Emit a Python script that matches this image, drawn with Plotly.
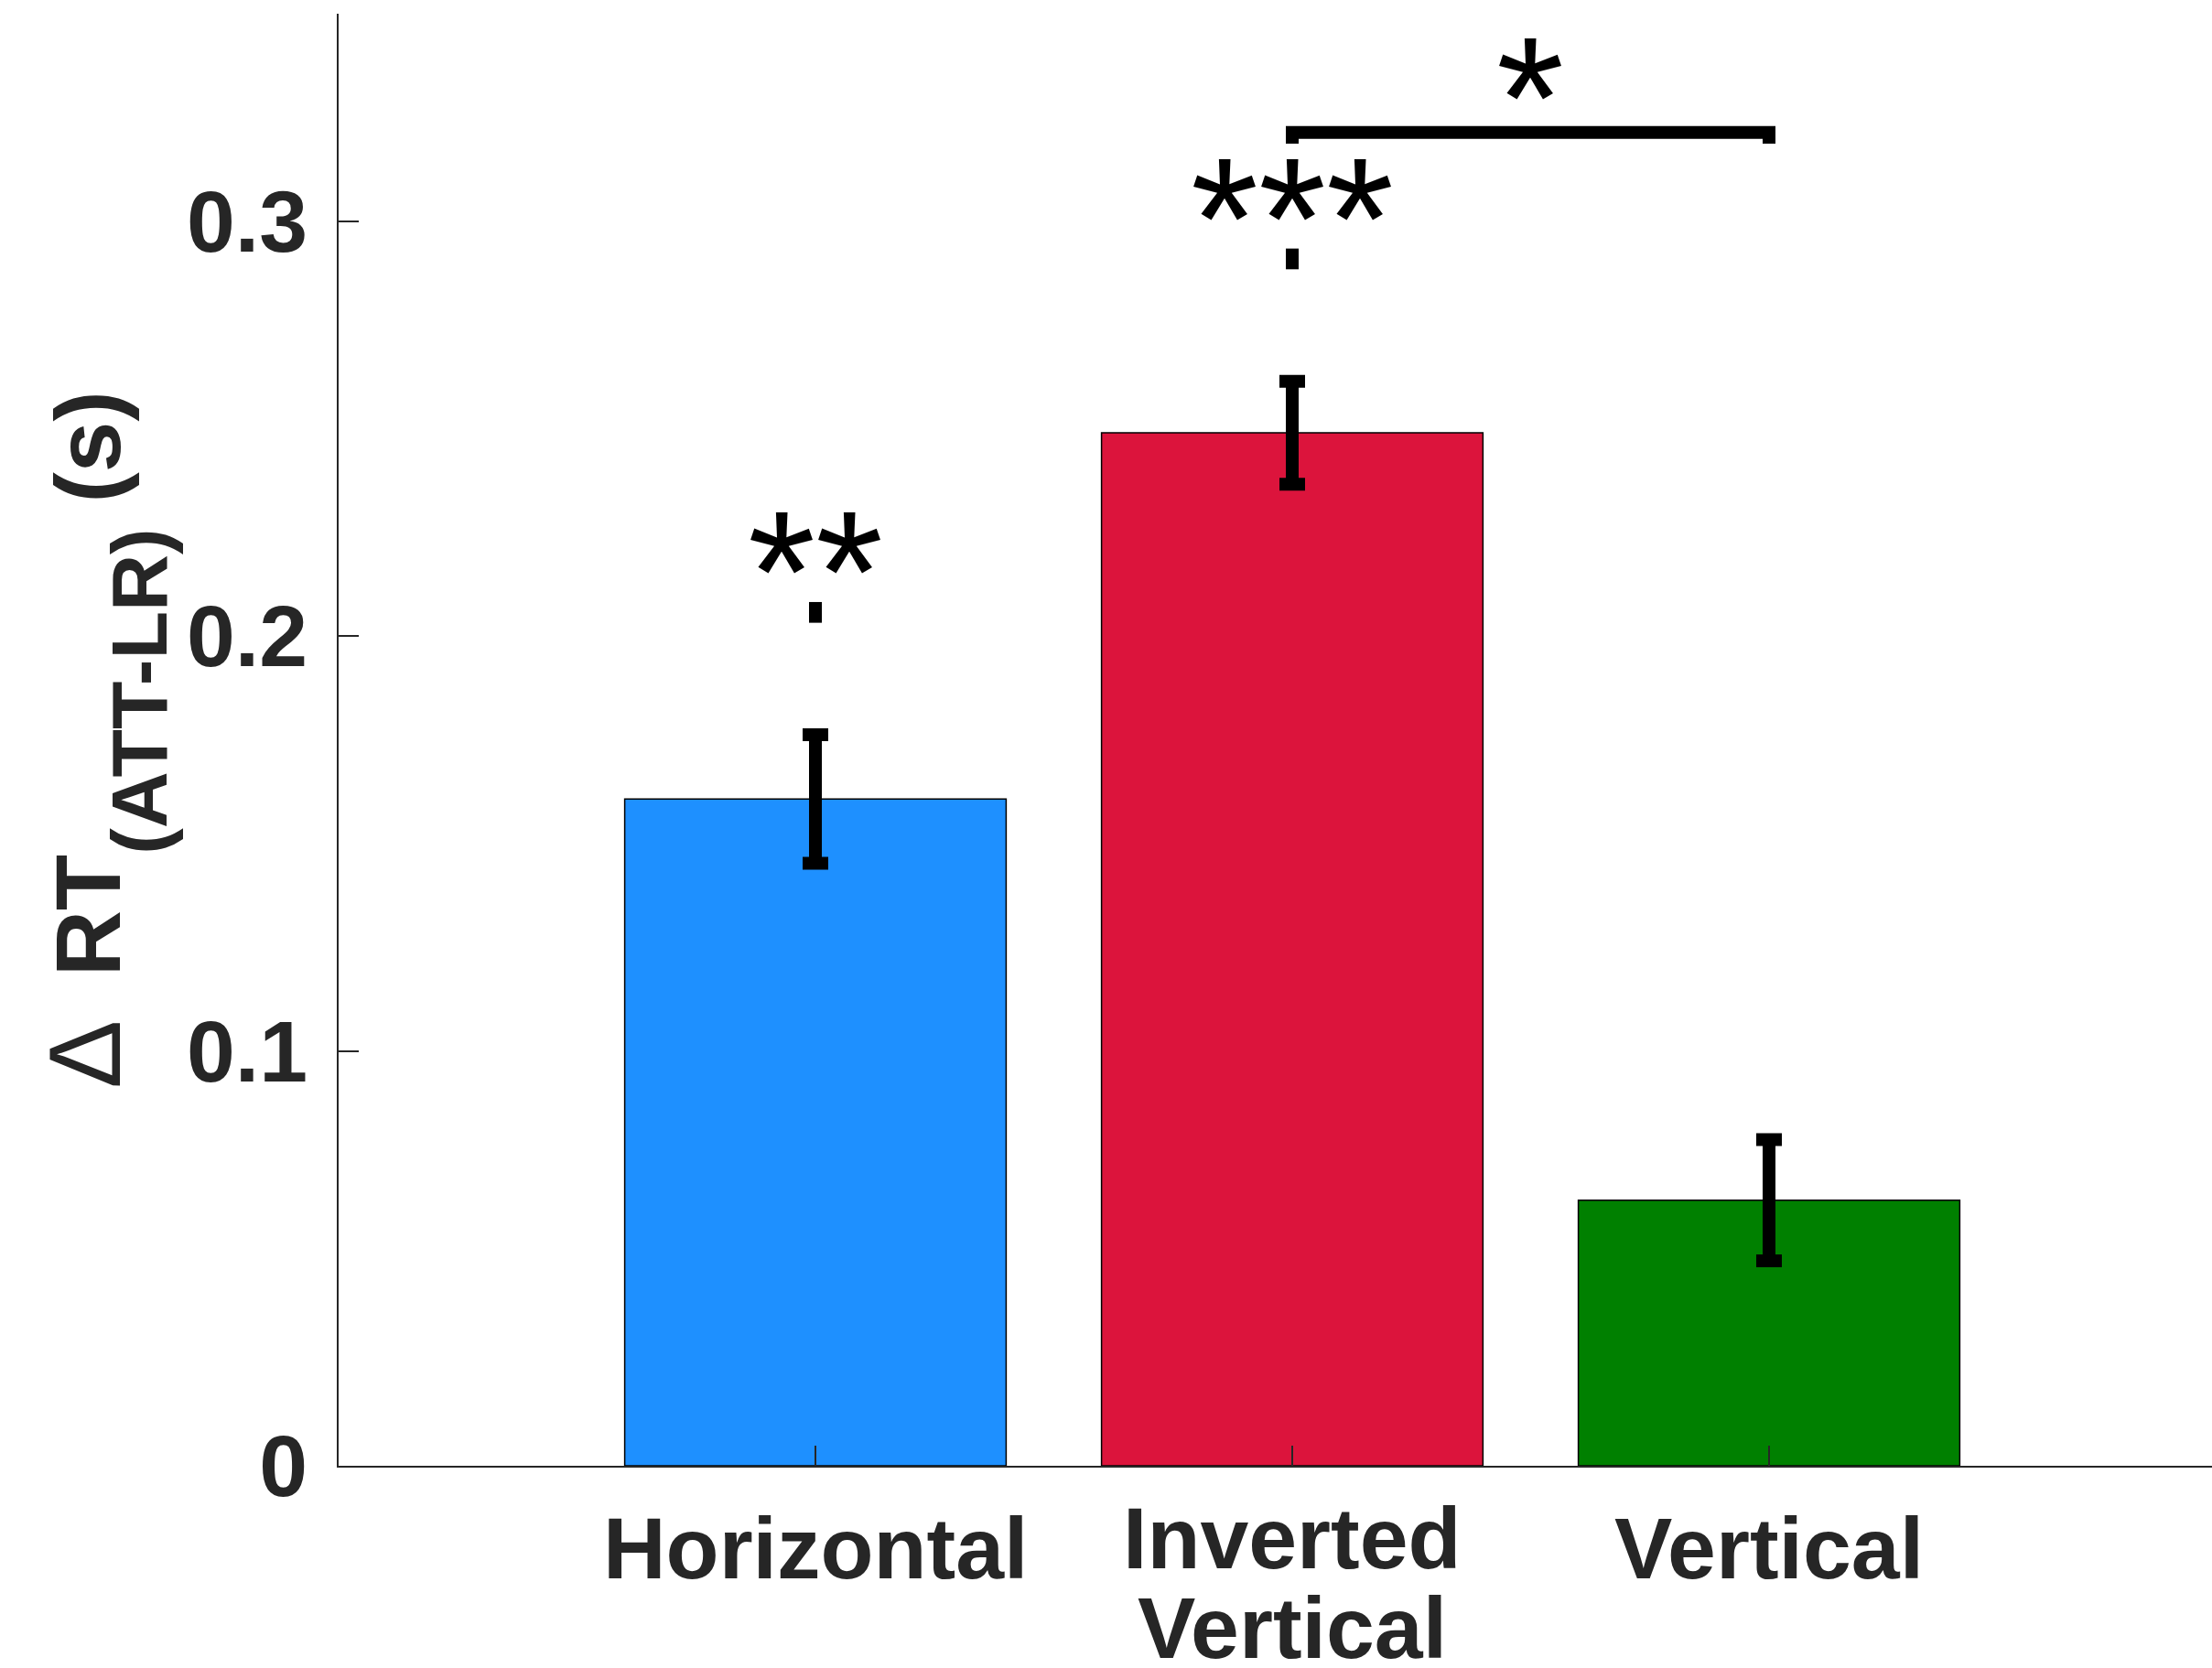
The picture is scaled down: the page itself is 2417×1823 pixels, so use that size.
import plotly.graph_objects as go

# ---- data ----
categories = ["Horizontal", "Inverted<br>Vertical", "Vertical"]
x_pos = [1, 2, 3]
means = [0.1607, 0.2490, 0.0640]
errors = [0.0155, 0.0124, 0.0146]
bar_colors = ["#1E90FF", "#DC143C", "#008000"]
sig_labels = ["**", "***", ""]
pair_x = [2, 3]
pair_label = "*"
ytick_vals = [0, 0.1, 0.2, 0.3]
ytick_text = ["0", "0.1", "0.2", "0.3"]

AX = "#262626"
FONT = "Liberation Sans"
STAR_SIZE = 190
LABEL_SIZE = 95

fig = go.Figure()
fig.add_trace(go.Bar(
    x=x_pos, y=means, width=0.8,
    marker=dict(color=bar_colors, line=dict(color="black", width=1.5)),
    error_y=dict(type="data", array=errors, color="black", thickness=14, width=14),
    showlegend=False,
))

shapes = []
annotations = []
tops = [m + e for m, e in zip(means, errors)]
for x, top, lab in zip(x_pos, tops, sig_labels):
    if not lab:
        continue
    shapes.append(dict(type="line", xref="x", yref="y", x0=x, x1=x,
                       y0=top + 0.027, y1=top + 0.032,
                       line=dict(color="black", width=14)))
    annotations.append(dict(x=x, y=top + 0.0395, xref="x", yref="y", text=lab,
                            showarrow=False, yanchor="middle",
                            font=dict(family=FONT, size=STAR_SIZE, color="black")))

i0, i1 = x_pos.index(pair_x[0]), x_pos.index(pair_x[1])
by = max(tops[i0], tops[i1]) + 0.06
shapes.append(dict(type="path", xref="x", yref="y",
                   path=f"M {pair_x[0]},{by-0.0027} L {pair_x[0]},{by} L {pair_x[1]},{by} L {pair_x[1]},{by-0.0027}",
                   line=dict(color="black", width=14)))
annotations.append(dict(x=(pair_x[0] + pair_x[1]) / 2, y=by + 0.0085, xref="x", yref="y",
                        text=pair_label, showarrow=False, yanchor="middle",
                        font=dict(family=FONT, size=STAR_SIZE, color="black")))

# category labels (multi-line labels use a tighter line spacing, as in the original)
for x, cat in zip(x_pos, categories):
    lines = cat.split("<br>")
    for j, line in enumerate(lines):
        annotations.append(dict(x=x, y=0, xref="x", yref="paper", text=f"<b>{line}</b>",
                                showarrow=False, yanchor="top", xanchor="center",
                                yshift=-35 + 11 * (len(lines) - 1) - 98 * j,
                                font=dict(family=FONT, size=LABEL_SIZE, color=AX)))

ytitle = ('<span style="font-weight:normal;font-size:112px">Δ</span> \u2009RT'
          '<sub><span style="font-size:86px;baseline-shift:-30px">(ATT-LR)</span></sub> (s)')

fig.update_layout(
    width=2417, height=1823,
    margin=dict(l=370, r=0, t=15, b=221),
    paper_bgcolor="white", plot_bgcolor="white",
    shapes=shapes, annotations=annotations,
    font=dict(family=FONT, color=AX),
)
fig.update_xaxes(
    range=[0, 3.929], tickvals=x_pos, ticktext=[""] * len(x_pos),
    ticks="inside", ticklen=22, tickwidth=1.5, tickcolor=AX,
    showline=True, linecolor=AX, linewidth=2, showgrid=False, zeroline=False,
    automargin=False,
)
fig.update_yaxes(
    range=[0, 0.35], tickvals=ytick_vals, ticktext=ytick_text,
    ticks="inside", ticklen=22, tickwidth=1.5, tickcolor=AX,
    showline=True, linecolor=AX, linewidth=2, showgrid=False, zeroline=False,
    tickfont=dict(family=FONT, size=LABEL_SIZE, color=AX, weight="bold"),
    ticklabelstandoff=13, automargin=False,
    title=dict(text=ytitle, font=dict(family=FONT, size=100, color=AX, weight="bold"),
               standoff=39),
)
fig.write_html("out.html", config={"displayModeBar": False},
               post_script="document.body.style.margin='0px';document.body.style.overflow='hidden';")
